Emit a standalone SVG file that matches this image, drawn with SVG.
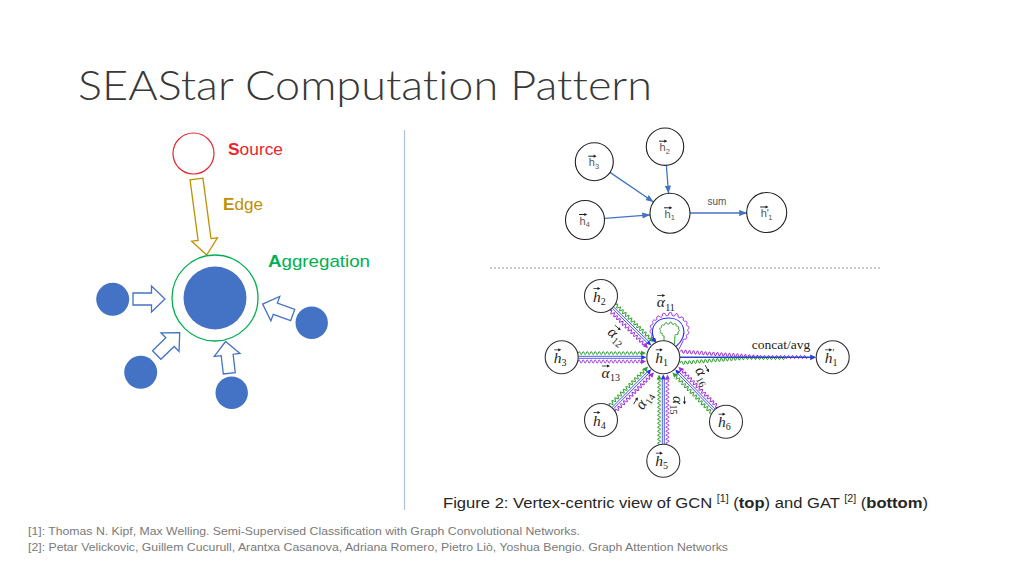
<svg xmlns="http://www.w3.org/2000/svg" xmlns:xlink="http://www.w3.org/1999/xlink" width="1024" height="576" viewBox="0 0 1024 576">
<style>
.title{font-family:Lato,"Liberation Sans",sans-serif;font-weight:300;font-size:41px;fill:#383838;font-variant-ligatures:none}
.lbl{font-family:"Liberation Sans",Arial,sans-serif;font-size:17px}
.barrow{fill:#fff;stroke:#4472C4;stroke-width:1.3;stroke-linejoin:miter}
.dot{fill:#4472C4}
.gn{fill:#fff;stroke:#222;stroke-width:1.1}
.gl{font-family:"Liberation Sans",Arial,sans-serif;font-size:11px;fill:#555}
.gs{font-family:"Liberation Sans",Arial,sans-serif;font-size:7.5px;fill:#555}
.vec{stroke:#222;stroke-width:1;fill:none}
.gcnE{stroke:#4472C4;stroke-width:1.3;fill:none}
.an{fill:#fff;stroke:#333;stroke-width:1.1}
.hl{font-family:"Liberation Serif","Times New Roman",serif;font-style:italic;font-size:15.5px;fill:#222}
.hs{font-family:"Liberation Serif","Times New Roman",serif;font-size:10px;fill:#222}
.al{font-family:"Liberation Serif","Times New Roman",serif;font-style:italic;font-size:15.5px;fill:#222}
.avec{stroke:#222;stroke-width:0.8;fill:none}
.bl{stroke:#2233ff;stroke-width:0.8}
.gw{fill:none;stroke:#2ea02e;stroke-width:1}
.pw{fill:none;stroke:#a030d8;stroke-width:1}
.bh{fill:#2233ff}
.gh{fill:#2ea02e}
.ph{fill:#a030d8}
.cap{font-family:"Liberation Sans",Arial,sans-serif;font-size:15.5px;fill:#262626}
.foot{font-family:"Liberation Sans",Arial,sans-serif;font-size:11.5px;fill:#7a7a7a}
</style>
<defs>
<marker id="mArr" viewBox="0 0 10 8" refX="10" refY="4" markerWidth="6" markerHeight="4.8" orient="auto">
<path d="M0,0 L10,4 L0,8 Z" fill="#4472C4"/>
</marker>
<marker id="mBlue" viewBox="0 0 10 8" refX="10" refY="4" markerWidth="5" markerHeight="4" orient="auto">
<path d="M0,0 L10,4 L0,8 Z" fill="#2233ff"/>
</marker>
<path id="blk" d="M0,-6 L18.5,-6 L18.5,-13 L32,0 L18.5,13 L18.5,6 L0,6 Z"/>
<path id="ah" d="M0,0 L-5,-2.4 L-5,2.4 Z"/>
<path id="smh" d="M0,0 L-3,-1.6 L-3,1.6 Z"/>
<path id="wv" pathLength="140" d="M0,0 q1,-3.2 2,0 t2,0 t2,0 t2,0 t2,0 t2,0 t2,0 t2,0 t2,0 t2,0 t2,0 t2,0 t2,0 t2,0 t2,0 t2,0 t2,0 t2,0 t2,0 t2,0 t2,0 t2,0 t2,0 t2,0 t2,0 t2,0 t2,0 t2,0 t2,0 t2,0 t2,0 t2,0 t2,0 t2,0 t2,0 t2,0 t2,0 t2,0 t2,0 t2,0 t2,0 t2,0 t2,0 t2,0 t2,0 t2,0 t2,0 t2,0 t2,0 t2,0 t2,0 t2,0 t2,0 t2,0 t2,0 t2,0 t2,0 t2,0 t2,0 t2,0 t2,0 t2,0 t2,0 t2,0 t2,0 t2,0 t2,0 t2,0 t2,0 t2,0"/>
</defs>

<rect width="1024" height="576" fill="#fff"/>

<text class="title" x="78" y="100" textLength="574" lengthAdjust="spacingAndGlyphs">SEAStar Computation Pattern</text>

<!-- left illustration -->
<g id="source">
<circle cx="193.5" cy="153.5" r="20.5" fill="#fff" stroke="#E8262B" stroke-width="1.2"/>
<text class="lbl" x="228" y="155" fill="#E8262B" textLength="55" lengthAdjust="spacingAndGlyphs"><tspan font-weight="bold">S</tspan>ource</text>
</g>
<g id="edge">
<path d="M0,-6.5 L61,-6.5 L61,-13 L76.7,0 L61,13 L61,6.5 L0,6.5 Z" transform="translate(196.5,179) rotate(82.4)" fill="#fff" stroke="#BF9000" stroke-width="1.3"/>
<text class="lbl" x="223" y="210" fill="#BF9000" textLength="40" lengthAdjust="spacingAndGlyphs"><tspan font-weight="bold">E</tspan>dge</text>
</g>
<g id="aggregation">
<circle cx="215" cy="298" r="43" fill="none" stroke="#00B050" stroke-width="1.3"/>
<circle class="dot" cx="215" cy="298" r="31.5"/>
<text class="lbl" x="268" y="267" fill="#00B050" textLength="102" lengthAdjust="spacingAndGlyphs"><tspan font-weight="bold">A</tspan>ggregation</text>
</g>
<g id="neighbor-left"><circle class="dot" cx="112.7" cy="299.3" r="16.5"/></g>
<g id="neighbor-right"><circle class="dot" cx="311.7" cy="322.7" r="16.2"/></g>
<g id="neighbor-bottomleft"><circle class="dot" cx="140.7" cy="372.3" r="16.5"/></g>
<g id="neighbor-bottom"><circle class="dot" cx="231.7" cy="392.7" r="16.2"/></g>
<g id="left-connectors">
<use href="#blk" class="barrow" transform="translate(133,299)"/>
<use href="#blk" class="barrow" transform="translate(292.7,315) rotate(-160)"/>
<use href="#blk" class="barrow" transform="translate(156.7,355) rotate(-44)"/>
<use href="#blk" class="barrow" transform="translate(229.3,373.3) rotate(-96.7)"/>
</g>

<line x1="404.5" y1="130" x2="404.5" y2="510" stroke="#AFC0DA" stroke-width="1.2"/>
<line x1="490" y1="268" x2="882" y2="268" stroke="#9a9a9a" stroke-width="1" stroke-dasharray="2,2"/>

<!-- GCN (top) -->
<g id="gcn-edges">
<line class="gcnE" x1="610" y1="172.4" x2="653.5" y2="202" marker-end="url(#mArr)"/>
<line class="gcnE" x1="666.4" y1="165.4" x2="668.5" y2="193.4" marker-end="url(#mArr)"/>
<line class="gcnE" x1="604.9" y1="218.4" x2="650.1" y2="214.9" marker-end="url(#mArr)"/>
<line class="gcnE" x1="690" y1="213" x2="747" y2="213" marker-end="url(#mArr)"/>
<text x="717" y="205" text-anchor="middle" font-family="Liberation Sans, Arial, sans-serif" font-size="10" fill="#555">sum</text>
</g>
<g id="gcn-h2" transform="translate(665,146.7)"><circle class="gn" r="18.7"/><text class="gl" x="-5.5" y="4.5">h</text><text class="gs" x="0.8" y="7">2</text><path class="vec" d="M-6,-5.5 H1"/><use href="#smh" x="2.3" y="-5.5" fill="#222"/></g>
<g id="gcn-h3" transform="translate(594.3,161.7)"><circle class="gn" r="19"/><text class="gl" x="-5.5" y="4.5">h</text><text class="gs" x="0.8" y="7">3</text><path class="vec" d="M-6,-5.5 H1"/><use href="#smh" x="2.3" y="-5.5" fill="#222"/></g>
<g id="gcn-h4" transform="translate(585,220)"><circle class="gn" r="19.5"/><text class="gl" x="-5.5" y="4.5">h</text><text class="gs" x="0.8" y="7">4</text><path class="vec" d="M-6,-5.5 H1"/><use href="#smh" x="2.3" y="-5.5" fill="#222"/></g>
<g id="gcn-h1" transform="translate(670,213.3)"><circle class="gn" r="20"/><text class="gl" x="-5.5" y="4.5">h</text><text class="gs" x="0.8" y="7">1</text><path class="vec" d="M-6,-5.5 H1"/><use href="#smh" x="2.3" y="-5.5" fill="#222"/></g>
<g id="gcn-h1p" transform="translate(766.7,212.5)"><circle class="gn" r="20"/><text class="gl" x="-6" y="4.5">h'</text><text class="gs" x="1.5" y="7">1</text><path class="vec" d="M-6.5,-5.5 H0.5"/><use href="#smh" x="1.8" y="-5.5" fill="#222"/></g>

<!-- GAT (bottom) -->
<g id="gat-edges">
<g transform="translate(612.8,307.6) rotate(44.5)">
<line class="bl" x1="0" y1="-1" x2="50" y2="-1"/><line class="bl" x1="0" y1="1" x2="50" y2="1"/>
<use href="#wv" class="gw" y="-4.2" style="stroke-dasharray:50 1000"/><use href="#wv" class="pw" y="4.2" style="stroke-dasharray:50 1000"/>
<use href="#ah" class="bh" x="53.9"/><use href="#ah" class="gh" x="53.6" y="-4.2"/><use href="#ah" class="ph" x="53.6" y="4.2"/>
</g>
<g transform="translate(578.2,357.3)">
<line class="bl" x1="0" y1="-1" x2="64" y2="-1"/><line class="bl" x1="0" y1="1" x2="64" y2="1"/>
<use href="#wv" class="gw" y="-4.2" style="stroke-dasharray:64 1000"/><use href="#wv" class="pw" y="4.2" style="stroke-dasharray:64 1000"/>
<use href="#ah" class="bh" x="68.1"/><use href="#ah" class="gh" x="67.8" y="-4.2"/><use href="#ah" class="ph" x="67.8" y="4.2"/>
</g>
<g transform="translate(612.6,408.3) rotate(-45.2)">
<line class="bl" x1="0" y1="-1" x2="51" y2="-1"/><line class="bl" x1="0" y1="1" x2="51" y2="1"/>
<use href="#wv" class="gw" y="-4.2" style="stroke-dasharray:51 1000"/><use href="#wv" class="pw" y="4.2" style="stroke-dasharray:51 1000"/>
<use href="#ah" class="bh" x="54.9"/><use href="#ah" class="gh" x="54.6" y="-4.2"/><use href="#ah" class="ph" x="54.6" y="4.2"/>
</g>
<g transform="translate(663.3,444.2) rotate(-90)">
<line class="bl" x1="0" y1="-1" x2="66" y2="-1"/><line class="bl" x1="0" y1="1" x2="66" y2="1"/>
<use href="#wv" class="gw" y="-4.2" style="stroke-dasharray:66 1000"/><use href="#wv" class="pw" y="4.2" style="stroke-dasharray:66 1000"/>
<use href="#ah" class="bh" x="69.9"/><use href="#ah" class="gh" x="69.6" y="-4.2"/><use href="#ah" class="ph" x="69.6" y="4.2"/>
</g>
<g transform="translate(714.5,409.9) rotate(-134.2)">
<line class="bl" x1="0" y1="-1" x2="52.5" y2="-1"/><line class="bl" x1="0" y1="1" x2="52.5" y2="1"/>
<use href="#wv" class="gw" y="-4.2" style="stroke-dasharray:52.5 1000"/><use href="#wv" class="pw" y="4.2" style="stroke-dasharray:52.5 1000"/>
<use href="#ah" class="bh" x="56.4"/><use href="#ah" class="gh" x="56.1" y="-4.2"/><use href="#ah" class="ph" x="56.1" y="4.2"/>
</g>
<!-- self loop -->
<path class="pw" d="M657.29,342.26 A1.6,1.6 0 0 1 654.98,340.32 A1.6,1.6 0 0 0 653.10,338.09 A1.6,1.6 0 0 1 651.71,335.61 A1.6,1.6 0 0 0 650.83,332.97 A1.6,1.6 0 0 1 650.50,330.25 A1.6,1.6 0 0 0 650.73,327.52 A1.6,1.6 0 0 1 651.51,324.86 A1.6,1.6 0 0 0 652.81,322.35 A1.6,1.6 0 0 1 654.61,320.06 A1.6,1.6 0 0 0 656.84,318.07 A1.6,1.6 0 0 1 659.44,316.43 A1.6,1.6 0 0 0 662.34,315.18 A1.6,1.6 0 0 1 665.45,314.37 A1.6,1.6 0 0 0 668.67,314.02 A1.6,1.6 0 0 1 671.92,314.13 A1.6,1.6 0 0 0 675.10,314.71 A1.6,1.6 0 0 1 678.11,315.74 A1.6,1.6 0 0 0 680.88,317.19 A1.6,1.6 0 0 1 683.31,319.01 A1.6,1.6 0 0 0 685.33,321.15 A1.6,1.6 0 0 1 686.89,323.56 A1.6,1.6 0 0 0 687.94,326.15 A1.6,1.6 0 0 1 688.45,328.85 A1.6,1.6 0 0 0 688.41,331.59 A1.6,1.6 0 0 1 687.80,334.29 A1.6,1.6 0 0 0 686.67,336.85 A1.6,1.6 0 0 1 685.03,339.22 A1.6,1.6 0 0 0 682.93,341.31 L678.5,349.8"/>
<path d="M676,346.5 C690,334 684,318 668.7,318 C653,318 648,332 656.5,343" fill="none" stroke="#2233ff" stroke-width="1.1" marker-end="url(#mBlue)"/>
<path class="gw" d="M664,341 L664.05,335.73 A1.2,1.2 0 0 1 662.28,334.55 A1.2,1.2 0 0 0 660.96,333.07 A1.2,1.2 0 0 1 660.19,331.40 A1.2,1.2 0 0 0 660.01,329.63 A1.2,1.2 0 0 1 660.44,327.90 A1.2,1.2 0 0 0 661.44,326.29 A1.2,1.2 0 0 1 662.96,324.92 A1.2,1.2 0 0 0 664.89,323.88 A1.2,1.2 0 0 1 667.12,323.22 A1.2,1.2 0 0 0 669.5,323 A1.2,1.2 0 0 1 671.88,323.22 A1.2,1.2 0 0 0 674.11,323.88 A1.2,1.2 0 0 1 676.04,324.92 A1.2,1.2 0 0 0 677.56,326.29 A1.2,1.2 0 0 1 678.56,327.90 A1.2,1.2 0 0 0 678.99,329.63 A1.2,1.2 0 0 1 678.81,331.40 A1.2,1.2 0 0 0 678.04,333.07 A1.2,1.2 0 0 1 676.72,334.55 A1.2,1.2 0 0 0 674.95,335.73 L674.5,344.5"/>
<!-- output edge -->
<use href="#wv" class="pw" transform="translate(680.5,351.5) rotate(3.98)" style="stroke-dasharray:79 1000"/>
<use href="#wv" class="pw" transform="translate(759.5,357)" style="stroke-dasharray:48 1000"/>
<use href="#wv" class="gw" transform="translate(680.5,363) rotate(-4.47)" style="stroke-dasharray:64 1000"/>
<use href="#wv" class="gw" transform="translate(744.5,358)" style="stroke-dasharray:40 1000"/>
<line x1="680" y1="357.3" x2="811" y2="357.3" stroke="#2a44c8" stroke-width="1.6"/>
<use href="#ah" x="816.2" y="357.3" fill="#2a44c8" transform="translate(816.2,357.3) scale(1.2) translate(-816.2,-357.3)"/>
<text x="781" y="349" text-anchor="middle" font-family="Liberation Serif, Times New Roman, serif" font-size="13.5" fill="#222">concat/avg</text>
</g>

<g id="gat-alpha-labels">
<g transform="translate(666.7,303)"><text class="al" x="-10" y="4">α</text><text class="hs" x="-1.5" y="7.5">11</text><path class="avec" d="M-9.5,-7.5 H-2.5"/><use href="#smh" x="-1.5" y="-7.5" fill="#222"/></g>
<g transform="translate(617,337) rotate(41)"><text class="al" x="-10" y="4">α</text><text class="hs" x="-1.5" y="7.5">12</text><path class="avec" d="M-9.5,-7.5 H-2.5"/><use href="#smh" x="-1.5" y="-7.5" fill="#222"/></g>
<g transform="translate(611.5,373.5)"><text class="al" x="-10" y="4">α</text><text class="hs" x="-1.5" y="7.5">13</text><path class="avec" d="M-9.5,-7.5 H-2.5"/><use href="#smh" x="-1.5" y="-7.5" fill="#222"/></g>
<g transform="translate(645,400) rotate(-58)"><text class="al" x="-10" y="4">α</text><text class="hs" x="-1.5" y="7.5">14</text><path class="avec" d="M-9.5,-7.5 H-2.5"/><use href="#smh" x="-1.5" y="-7.5" fill="#222"/></g>
<g transform="translate(677,406) rotate(90)"><text class="al" x="-10" y="4">α</text><text class="hs" x="-1.5" y="7.5">15</text><path class="avec" d="M-9.5,-7.5 H-2.5"/><use href="#smh" x="-1.5" y="-7.5" fill="#222"/></g>
<g transform="translate(703,377) rotate(62)"><text class="al" x="-10" y="4">α</text><text class="hs" x="-1.5" y="7.5">16</text><path class="avec" d="M-9.5,-7.5 H-2.5"/><use href="#smh" x="-1.5" y="-7.5" fill="#222"/></g>
</g>

<g id="gat-h2" transform="translate(601,296)"><circle class="an" r="16.5"/><text class="hl" x="-8" y="5.5">h</text><text class="hs" x="-0.3" y="8.5">2</text><path class="avec" d="M-7.5,-7.5 H-1.5"/><use href="#smh" x="-0.5" y="-7.5" fill="#222"/></g>
<g id="gat-h3" transform="translate(561.7,357.3)"><circle class="an" r="16.5"/><text class="hl" x="-8" y="5.5">h</text><text class="hs" x="-0.3" y="8.5">3</text><path class="avec" d="M-7.5,-7.5 H-1.5"/><use href="#smh" x="-0.5" y="-7.5" fill="#222"/></g>
<g id="gat-h1" transform="translate(663.3,357.3)"><circle class="an" r="16.5"/><text class="hl" x="-8" y="5.5">h</text><text class="hs" x="-0.3" y="8.5">1</text><path class="avec" d="M-7.5,-7.5 H-1.5"/><use href="#smh" x="-0.5" y="-7.5" fill="#222"/></g>
<g id="gat-h4" transform="translate(601,420)"><circle class="an" r="16.5"/><text class="hl" x="-8" y="5.5">h</text><text class="hs" x="-0.3" y="8.5">4</text><path class="avec" d="M-7.5,-7.5 H-1.5"/><use href="#smh" x="-0.5" y="-7.5" fill="#222"/></g>
<g id="gat-h5" transform="translate(663.3,460.7)"><circle class="an" r="16.5"/><text class="hl" x="-8" y="5.5">h</text><text class="hs" x="-0.3" y="8.5">5</text><path class="avec" d="M-7.5,-7.5 H-1.5"/><use href="#smh" x="-0.5" y="-7.5" fill="#222"/></g>
<g id="gat-h6" transform="translate(726,421.7)"><circle class="an" r="16.5"/><text class="hl" x="-8" y="5.5">h</text><text class="hs" x="-0.3" y="8.5">6</text><path class="avec" d="M-7.5,-7.5 H-1.5"/><use href="#smh" x="-0.5" y="-7.5" fill="#222"/></g>
<g id="gat-h1p" transform="translate(832.7,357.3)"><circle class="an" r="16.5"/><text class="hl" x="-8" y="5.5">h</text><text class="hs" x="-0.3" y="-1">′</text><text class="hs" x="-0.3" y="8.5">1</text><path class="avec" d="M-7.5,-7.5 H-1.5"/><use href="#smh" x="-0.5" y="-7.5" fill="#222"/></g>

<text class="cap" x="443" y="508" textLength="485" lengthAdjust="spacingAndGlyphs">Figure 2: Vertex-centric view of GCN <tspan font-size="10" dy="-6">[1]</tspan><tspan dy="6"> (</tspan><tspan font-weight="bold">top</tspan>) and GAT <tspan font-size="10" dy="-6">[2]</tspan><tspan dy="6"> (</tspan><tspan font-weight="bold">bottom</tspan>)</text>

<text class="foot" x="28" y="535" textLength="552" lengthAdjust="spacingAndGlyphs">[1]: Thomas N. Kipf, Max Welling. Semi-Supervised Classification with Graph Convolutional Networks.</text>
<text class="foot" x="28" y="551" textLength="700" lengthAdjust="spacingAndGlyphs">[2]: Petar Velickovic, Guillem Cucurull, Arantxa Casanova, Adriana Romero, Pietro Liò, Yoshua Bengio. Graph Attention Networks</text>
</svg>
